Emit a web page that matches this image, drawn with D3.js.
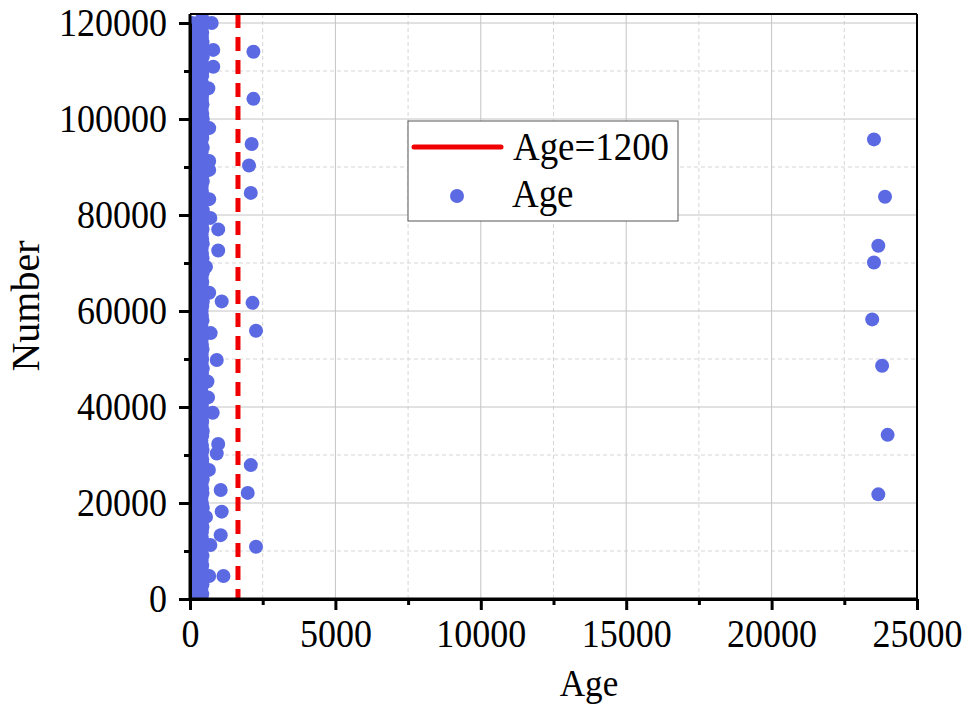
<!DOCTYPE html>
<html>
<head>
<meta charset="utf-8">
<script src="https://cdn.jsdelivr.net/npm/d3@7"></script>
<style>
  body { margin: 0; background: #fff; }
  text { font-family: "Liberation Serif", "Times New Roman", serif; fill: #000; }
</style>
</head>
<body>
<div id="chart"></div>
<script>
// axis ticks
const xTicks = [0, 5000, 10000, 15000, 20000, 25000];
const xMinor = [2500, 7500, 12500, 17500, 22500];
const yTicks = [0, 20000, 40000, 60000, 80000, 100000, 120000];
const yMinor = [10000, 30000, 50000, 70000, 90000, 110000];

// red dashed line (drawn position) and its legend label
const thresholdAge = 1650;
const thresholdLabel = "Age=1200";

// dense band of young ages along the y axis, one value per 1000 samples
const bandStep = 1000;
const bandAges = [
  400, 420, 390, 430, 410, 440, 400, 420, 400, 430,
  390, 420, 440, 400, 410, 430, 400, 420, 410, 440,
  410, 390, 430, 420, 400, 440, 410, 400, 430, 420,
  400, 430, 410, 390, 420, 440, 400, 420, 400, 430,
  410, 420, 440, 400, 390, 430, 420, 410, 440, 400,
  420, 400, 430, 410, 400, 440, 420, 390, 430, 410,
  400, 420, 440, 400, 430, 410, 420, 400, 440, 390,
  420, 430, 410, 400, 440, 420, 400, 430, 410, 420,
  400, 440, 390, 420, 430, 410, 400, 440, 420, 400,
  430, 410, 420, 400, 440, 390, 420, 430, 410, 400,
  440, 420, 400, 430, 410, 420, 400, 440, 390, 420,
  430, 410, 400, 440, 420, 400, 430, 410, 420, 400,
  440, 420
];
// the very youngest samples, one value per 2000 samples
const fillStep = 2000;
const fillAges = [
  80, 120, 60, 150, 100, 90, 140, 70, 110, 130,
  60, 100, 150, 80, 120, 90, 140, 70, 110, 60,
  130, 100, 80, 150, 90, 120, 70, 140, 100, 60,
  110, 130, 80, 90, 150, 70, 120, 100, 60, 140,
  90, 110, 80, 130, 70, 150, 100, 60, 120, 90,
  140, 80, 110, 70, 130, 100, 60, 150, 90, 120,
  80
];

// scattered samples [number, age]
const scatterPoints = [
  [120000, 746], [114400, 800], [114000, 2180], [110900, 800], [106400, 630],
  [104200, 2180], [98100, 660], [94800, 2120], [91250, 660], [90300, 2030],
  [89400, 660], [84600, 2090], [83300, 660], [79400, 700], [77000, 970],
  [72600, 970], [69200, 550], [63800, 660], [62000, 1090], [61700, 2150],
  [55900, 2270], [55400, 710], [49800, 920], [45300, 600], [42000, 620],
  [38800, 780], [32300, 970], [30300, 920], [27900, 2090], [26900, 650],
  [22700, 1055], [22100, 1985], [18200, 1090], [17100, 550], [13300, 1055],
  [11250, 700], [10900, 2270], [4800, 660], [4800, 1150],
  [95750, 23520], [83800, 23900], [73600, 23670], [70100, 23520],
  [58250, 23460], [48600, 23800], [34200, 23990], [21800, 23670]
];

const width = 969, height = 707;
const plotLeft = 190, plotRight = 917, plotTop = 14, plotBottom = 599;
const dotColor = "#5b6ae2";
const fontSize = 40, squeeze = 0.9;

const x = d3.scaleLinear().domain([0, 25000]).range([plotLeft, plotRight]);
const y = d3.scaleLinear().domain([0, 120000]).range([plotBottom, 23]);

const svg = d3.select("#chart").append("svg")
  .attr("width", width).attr("height", height);

svg.append("clipPath").attr("id", "plot-clip")
  .append("rect")
  .attr("x", plotLeft).attr("y", plotTop)
  .attr("width", plotRight - plotLeft).attr("height", plotBottom - plotTop);

// grid
const grid = svg.append("g");
grid.selectAll(".gxm").data(xMinor).enter().append("line")
  .attr("x1", d => x(d)).attr("x2", d => x(d)).attr("y1", plotTop).attr("y2", plotBottom)
  .attr("stroke", "#d6d6d6").attr("stroke-dasharray", "4,3");
grid.selectAll(".gym").data(yMinor).enter().append("line")
  .attr("x1", plotLeft).attr("x2", plotRight).attr("y1", d => y(d)).attr("y2", d => y(d))
  .attr("stroke", "#d6d6d6").attr("stroke-dasharray", "4,3");
grid.selectAll(".gx").data(xTicks.slice(1, -1)).enter().append("line")
  .attr("x1", d => x(d)).attr("x2", d => x(d)).attr("y1", plotTop).attr("y2", plotBottom)
  .attr("stroke", "#c4c4c4");
grid.selectAll(".gy").data(yTicks.slice(1)).enter().append("line")
  .attr("x1", plotLeft).attr("x2", plotRight).attr("y1", d => y(d)).attr("y2", d => y(d))
  .attr("stroke", "#c4c4c4");

// points
const dots = svg.append("g").attr("clip-path", "url(#plot-clip)").attr("fill", dotColor);
dots.selectAll(".fill").data(fillAges).enter().append("circle")
  .attr("cx", d => x(d)).attr("cy", (d, i) => y(i * fillStep)).attr("r", 7);
dots.selectAll(".band").data(bandAges).enter().append("circle")
  .attr("cx", d => x(d)).attr("cy", (d, i) => y(i * bandStep)).attr("r", 7);
dots.selectAll(".pt").data(scatterPoints).enter().append("circle")
  .attr("cx", d => x(d[1])).attr("cy", d => y(d[0])).attr("r", 7);

// threshold line
svg.append("line")
  .attr("x1", x(thresholdAge)).attr("x2", x(thresholdAge))
  .attr("y1", plotTop).attr("y2", plotBottom)
  .attr("stroke", "#f00000").attr("stroke-width", 5)
  .attr("stroke-dasharray", "14,9");

// frame
svg.append("line").attr("x1", plotLeft).attr("x2", plotRight).attr("y1", plotTop).attr("y2", plotTop)
  .attr("stroke", "#000").attr("stroke-width", 2);
svg.append("line").attr("x1", plotRight).attr("x2", plotRight).attr("y1", plotTop).attr("y2", plotBottom)
  .attr("stroke", "#000").attr("stroke-width", 2);

// axes
function styleAxis(g) {
  g.select(".domain").attr("stroke-width", 3);
  g.selectAll(".tick line").attr("stroke-width", 3);
}

svg.append("g").attr("transform", `translate(0,${plotBottom})`)
  .call(d3.axisBottom(x).tickValues(xMinor).tickSize(6).tickFormat("").tickSizeOuter(0))
  .call(styleAxis);
const xAxis = svg.append("g").attr("transform", `translate(0,${plotBottom})`)
  .call(d3.axisBottom(x).tickValues(xTicks).tickSize(11).tickSizeOuter(0).tickFormat(d3.format("d")))
  .call(styleAxis);
xAxis.selectAll("text")
  .attr("font-size", fontSize).attr("y", 20)
  .attr("transform", `scale(${squeeze},1)`);

svg.append("g").attr("transform", `translate(${plotLeft},0)`)
  .call(d3.axisLeft(y).tickValues(yMinor).tickSize(6).tickFormat("").tickSizeOuter(0))
  .call(styleAxis);
const yAxis = svg.append("g").attr("transform", `translate(${plotLeft},0)`)
  .call(d3.axisLeft(y).tickValues(yTicks).tickSize(11).tickSizeOuter(0).tickFormat(d3.format("d")))
  .call(styleAxis);
yAxis.selectAll("text")
  .attr("font-size", fontSize).attr("x", -23 / squeeze)
  .attr("transform", `scale(${squeeze},1)`);
svg.selectAll(".domain").attr("fill", "none");
yAxis.select(".domain").attr("d", `M0,${plotBottom}V${plotTop}`);
xAxis.select(".domain").attr("d", `M${plotLeft},0H${plotRight}`);

// titles
svg.append("text")
  .attr("transform", `translate(589,696) scale(${squeeze},1)`)
  .attr("text-anchor", "middle").attr("font-size", 39).text("Age");
svg.append("text")
  .attr("transform", "translate(39,306) rotate(-90)")
  .attr("text-anchor", "middle").attr("font-size", fontSize).text("Number");

// legend
const legend = svg.append("g");
legend.append("rect")
  .attr("x", 408).attr("y", 121).attr("width", 270).attr("height", 100)
  .attr("fill", "#fff").attr("stroke", "#555").attr("stroke-width", 1);
legend.append("line")
  .attr("x1", 414).attr("x2", 501).attr("y1", 147).attr("y2", 147)
  .attr("stroke", "#f00000").attr("stroke-width", 5).attr("stroke-linecap", "round");
legend.append("text")
  .attr("transform", `translate(513,160) scale(${squeeze},1)`)
  .attr("font-size", 41).text(thresholdLabel);
legend.append("circle").attr("cx", 457).attr("cy", 196).attr("r", 7).attr("fill", dotColor);
legend.append("text")
  .attr("transform", `translate(512,207) scale(${squeeze},1)`)
  .attr("font-size", 41).text("Age");
</script>
</body>
</html>
